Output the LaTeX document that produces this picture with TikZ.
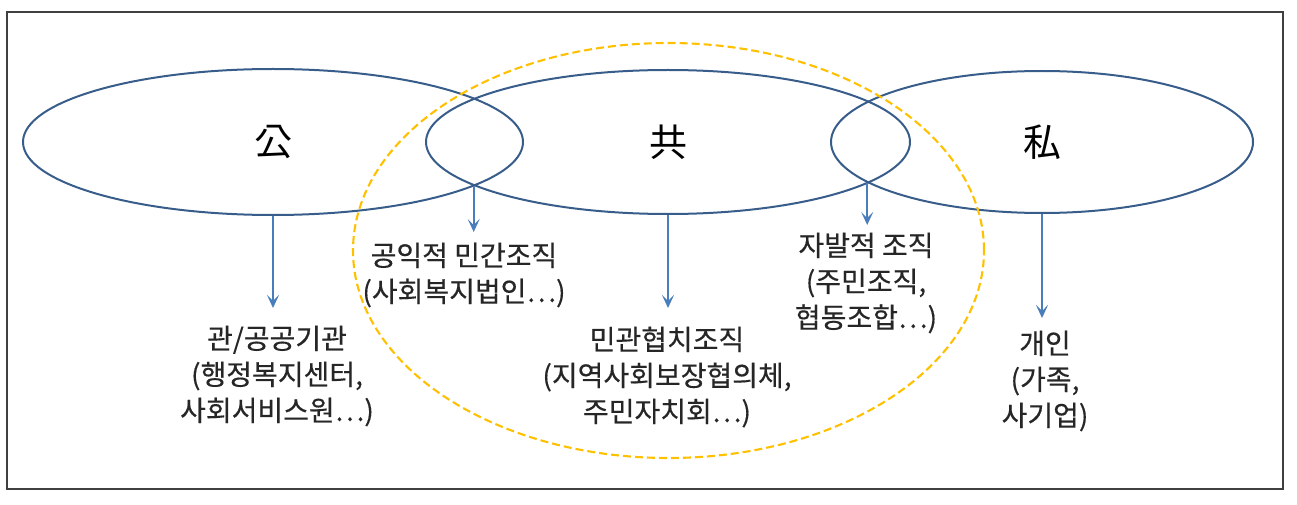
\documentclass[tikz,border=0pt]{standalone}
\usepackage{fontspec}
\setmainfont[FakeBold=0.4]{Noto Sans CJK KR}
\newfontfamily\hanjafont{Noto Sans CJK KR}
\usetikzlibrary{shapes.geometric,arrows.meta}
\definecolor{ringblue}{HTML}{385D8A}
\definecolor{arrblue}{HTML}{4A7EBB}
\definecolor{dashgold}{HTML}{FFC000}
\definecolor{txtgray}{HTML}{262626}
\begin{document}
\begin{tikzpicture}[x=1pt,y=-1pt,
  ring/.style={ellipse, draw=ringblue, line width=2pt, inner sep=0pt,
    font=\hanjafont\fontsize{38}{38}\selectfont, text=black},
  goldring/.style={ellipse, draw=dashgold, line width=2.1pt,
    dash pattern=on 8pt off 4pt, inner sep=0pt},
  lbl/.style={align=center, font=\fontsize{28}{36}\selectfont, text=txtgray, inner sep=0pt},
  arr/.style={draw=arrblue, line width=1.7pt, -{Stealth[length=13pt,width=12pt,inset=6pt]}},
  framebox/.style={draw=black!75, line width=1.8pt, inner sep=0pt}]
\path[use as bounding box] (0,0) rectangle (1297,505);
\node[framebox, minimum width=1276pt, minimum height=477pt] (box) at (645,250.5) {};
% three spheres
\node[ring, minimum width=500pt, minimum height=146pt] (gong) at (273,142) {公};
\node[ring, minimum width=484pt, minimum height=144pt] (gongg) at (668,142) {共};
\node[ring, minimum width=422pt, minimum height=142pt] (sa) at (1042,142) {私};
% dashed civic circle
\node[goldring, minimum width=631pt, minimum height=415pt] (civic) at (668.5,250.5) {};
% lens points and arrow tips
\coordinate (lensL) at (473.7,185.5);
\coordinate (lensR) at (867.2,183.5);
\coordinate (tipgong) at (273,308);
\coordinate (tiplensL) at (473.7,232);
\coordinate (tipgongg) at (668,308);
\coordinate (tiplensR) at (867.2,225);
\coordinate (tipsa) at (1042,318);
% labels
\node[lbl] (tgong) at (277,376) {관/공공기관\\(행정복지센터,\\사회서비스원⋯)};
\node[lbl] (tlensL) at (464,275) {공익적 민간조직\\(사회복지법인⋯)};
\node[lbl] (tgongg) at (667,377) {민관협치조직\\(지역사회보장협의체,\\주민자치회⋯)};
\node[lbl] (tlensR) at (866,283) {자발적 조직\\(주민조직,\\협동조합⋯)};
\node[lbl] (tsa) at (1045,381) {개인\\(가족,\\사기업)};
% arrows
\draw[arr] (gong.south) -- (tipgong);
\draw[arr] (lensL) -- (tiplensL);
\draw[arr] (gongg.south) -- (tipgongg);
\draw[arr] (lensR) -- (tiplensR);
\draw[arr] (sa.south) -- (tipsa);
\end{tikzpicture}
\end{document}
